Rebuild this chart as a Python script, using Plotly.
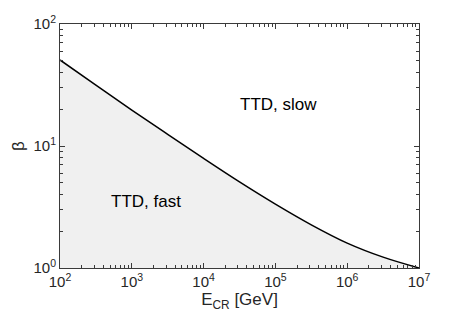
import math
import plotly.graph_objects as go

# Data
energy_gev = [1e2, 10**2.5, 1e3, 10**3.5, 1e4, 10**4.5, 1e5, 10**5.5, 1e6, 10**6.5, 1e7]
beta = [50.7, 31.6, 19.7, 12.45, 7.91, 5.08, 3.34, 2.26, 1.60, 1.227, 1.0]
baseline_x = [1e2, 1e7]
baseline_y = [1.0, 1.0]
region_labels = ["TTD, slow", "TTD, fast"]
region_x = [1.087e5, 1.563e3]
region_y = [21.7, 3.49]
x_tickvals = [1e2, 1e3, 1e4, 1e5, 1e6, 1e7]
x_ticktext = ["10<sup>2</sup>", "10<sup>3</sup>", "10<sup>4</sup>", "10<sup>5</sup>",
              "10<sup>6</sup>", "10<sup>7</sup>"]
y_tickvals = [1, 10, 100]
y_ticktext = ["10<sup>0</sup>", "10<sup>1</sup>", "10<sup>2</sup>"]

axis_color = "#3a3a3a"
text_color = "#262626"
font_family = "Liberation Sans, Arial, sans-serif"

fig = go.Figure()
fig.add_trace(go.Scatter(x=baseline_x, y=baseline_y, mode="lines",
                         line=dict(width=0), showlegend=False, hoverinfo="skip"))
fig.add_trace(go.Scatter(x=energy_gev, y=beta, mode="lines",
                         line=dict(color="black", width=1.5, shape="spline", smoothing=1.0),
                         fill="tonexty", fillcolor="#f0f0f0", showlegend=False))

# annotation positions on log axes are given in log10 units
for t, x, y in zip(region_labels, region_x, region_y):
    fig.add_annotation(x=math.log10(x), y=math.log10(y), xref="x", yref="y", text=t,
                       showarrow=False, font=dict(size=17, color="black", family=font_family))

axis_common = dict(
    type="log", showgrid=False, zeroline=False, automargin=False,
    showline=True, linecolor=axis_color, linewidth=1, mirror="ticks",
    ticks="inside", ticklen=5, tickcolor=axis_color,
    minor=dict(ticks="inside", ticklen=3, tickcolor=axis_color, dtick="D1", showgrid=False),
    tickfont=dict(size=15, color=text_color, family=font_family),
)

fig.update_xaxes(range=[2, 7], tickmode="array", tickvals=x_tickvals, ticktext=x_ticktext,
                 title=dict(text="E<sub>CR</sub> [GeV]", standoff=2,
                            font=dict(size=17, color=text_color, family=font_family)),
                 **axis_common)
fig.update_yaxes(range=[0, 2], tickmode="array", tickvals=y_tickvals, ticktext=y_ticktext,
                 title=dict(text="β", standoff=4,
                            font=dict(size=17, color=text_color, family=font_family)),
                 **axis_common)

# the page body adds an 8px margin, so the figure is sized/offset to compensate
fig.update_layout(width=455, height=309, margin=dict(l=52, r=44, t=16, b=49),
                  plot_bgcolor="white", paper_bgcolor="white",
                  font=dict(family=font_family))

fig.write_html("out.html")
